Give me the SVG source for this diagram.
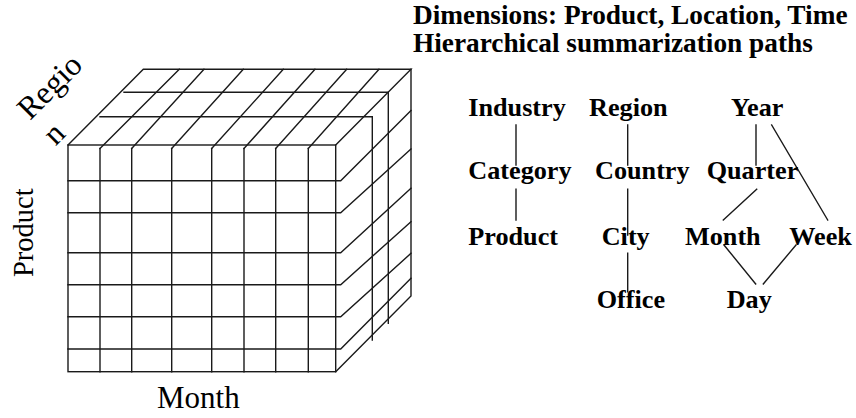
<svg xmlns="http://www.w3.org/2000/svg" width="856" height="418" viewBox="0 0 856 418">
<style>
.ln{stroke:#1a1a1a;stroke-width:1.4;fill:none;stroke-linecap:square}
.lbl{font-family:"Liberation Serif","Times New Roman",serif;font-weight:bold;font-size:26.2px;fill:#000}
.axis{font-family:"Liberation Serif","Times New Roman",serif;fill:#000}
.ttl{font-family:"Liberation Serif","Times New Roman",serif;font-weight:bold;font-size:27.3px;fill:#000}
</style>
<rect width="856" height="418" fill="#fff"/>
<g id="cube" class="ln">
  <rect x="68" y="145" width="267.7" height="226.7"/>
  <polyline points="68,145 143.3,69.3 411,69.3 335.7,145"/>
  <polyline points="411,69.3 411,296 335.7,371.7"/>
  <path d="M100,148.5V371.7M131.7,148.5V371.7M171.7,148.5V371.7M211.7,148.5V371.7M244,148.5V371.7M275.7,148.5V371.7M308.3,148.5V371.7"/>
  <path d="M100,148.5L179.3,69.3M131.7,148.5L204,69.3M171.7,148.5L243.3,69.3M211.7,148.5L283.3,69.3M244,148.5L315,69.3M275.7,148.5L346.7,69.3M308.3,148.5L379,69.3"/>
  <polyline points="124,92.3 388.3,92.3 388.3,323.3"/>
  <polyline points="100,116.7 372.3,116.7 372.3,340"/>
  <polyline points="68,180.7 340.7,180.7 411,110.5"/>
  <polyline points="68,212.7 340.7,212.7 411,149"/>
  <polyline points="68,252.7 340.7,252.7 411,188.3"/>
  <polyline points="68,284.7 340.7,284.7 411,221.7"/>
  <polyline points="68,316.7 340.7,316.7 411,253.3"/>
  <polyline points="68,349 340.7,349 411,278.3"/>
</g>
<g id="axis-region"><text class="axis" font-size="32" transform="translate(30,121) rotate(-45)"><tspan x="0" y="0">Regio</tspan><tspan x="0" y="36">n</tspan></text></g>
<g id="axis-product"><text class="axis" font-size="28.5" transform="translate(33,277) rotate(-90)">Product</text></g>
<g id="axis-month"><text class="axis" font-size="31" x="157" y="408">Month</text></g>
<g id="title"><text class="ttl" x="413" y="24">Dimensions: Product, Location, Time</text><text class="ttl" x="413" y="52">Hierarchical summarization paths</text></g>
<g id="connectors" class="ln">
  <path d="M516,125V165M516,189.3V220"/>
  <path d="M627.7,125V165M627.7,189.3V235M627.7,253.3V291.7"/>
  <path d="M756,125V165M771.7,125L827.7,220M756.7,189.3L723.3,220M724,245L755.7,284M796,245L763.3,284"/>
</g>
<g id="n-industry"><text class="lbl" x="468.3" y="116">Industry</text></g>
<g id="n-category"><text class="lbl" x="468.3" y="179.3">Category</text></g>
<g id="n-product"><text class="lbl" x="468.3" y="245">Product</text></g>
<g id="n-region"><text class="lbl" x="589" y="116">Region</text></g>
<g id="n-country"><text class="lbl" x="595" y="179.3">Country</text></g>
<g id="n-city"><text class="lbl" x="601.7" y="245">City</text></g>
<g id="n-office"><text class="lbl" x="596.7" y="308.3">Office</text></g>
<g id="n-year"><text class="lbl" x="731" y="116">Year</text></g>
<g id="n-quarter"><text class="lbl" x="706.7" y="179.3">Quarter</text></g>
<g id="n-month"><text class="lbl" x="685" y="245">Month</text></g>
<g id="n-week"><text class="lbl" x="789.3" y="245">Week</text></g>
<g id="n-day"><text class="lbl" x="726.7" y="308.3">Day</text></g>
</svg>
